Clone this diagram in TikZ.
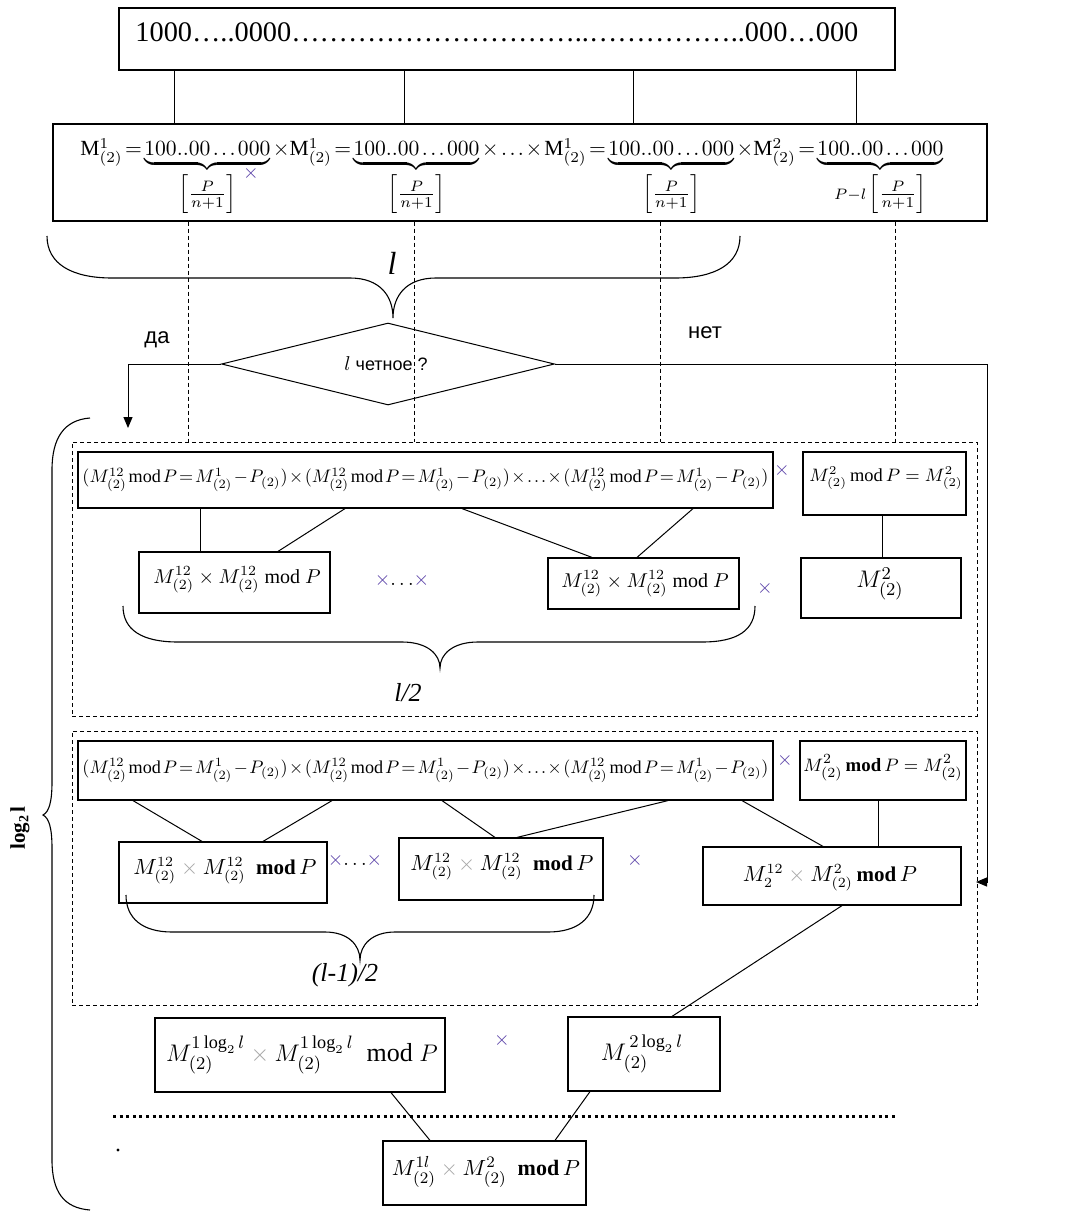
\documentclass[tikz,border=0pt]{standalone}
\usepackage{fontspec}
\setmainfont{Liberation Serif}
\newfontfamily\sansru{Liberation Sans}
\usepackage{graphicx}
\usetikzlibrary{shapes.geometric,fit,arrows.meta}
\definecolor{xviolet}{RGB}{85,60,165}
\definecolor{xgray}{RGB}{165,165,165}
\newcommand{\gx}{\mathbin{\textcolor{xgray}{\times}}}
\newcommand{\grp}{(M^{12}_{(2)}\,\mathrm{mod}\,P=M^{1}_{(2)}-P_{(2)})}
\newcommand{\lbr}{\textstyle\left[\frac{P}{n+1}\right]}
\newcommand{\bnum}{100..00\mathinner{\ldotp\ldotp\ldotp}000}
\newcommand{\tight}{\thickmuskip=2mu plus 1mu\medmuskip=1.5mu plus 1mu\thinmuskip=2mu}
\begin{document}
\begin{tikzpicture}[x=0.5pt,y=-0.5pt,
  box/.style={draw,line width=0.6pt,inner sep=0pt},
  dbox/.style={draw,line width=0.5pt,dash pattern=on 2pt off 1.5pt,inner sep=0pt},
  conn/.style={line width=0.5pt},
  dline/.style={line width=0.5pt,dash pattern=on 2pt off 1.5pt},
  brace/.style={line width=0.55pt},
  xm/.style={inner sep=0pt,text=xviolet},
  lab/.style={inner sep=0pt},
  tipa/.style={-{Triangle[length=5.5pt,width=4.5pt]}}
]
\useasboundingbox (0,0) rectangle (1080,1214);

% ---------- top box ----------
\node[box,fit={(119,8) (895,70)}] (top) {};
\node[lab,anchor=west] (toptext) at (135,32) {\resizebox{361.5pt}{!}{1000…..0000…………………………..……………..000…000}};

% ---------- second box ----------
\node[box,fit={(53,124) (987,221)}] (b2) {};
\node[lab,anchor=north west] (f2) at (80,138) {\resizebox{431.5pt}{!}{$\tight
\mathrm{M}^{1}_{(2)}=\underbrace{\bnum}_{\lbr}\times
\mathrm{M}^{1}_{(2)}=\underbrace{\bnum}_{\lbr}\times\ldots\times
\mathrm{M}^{1}_{(2)}=\underbrace{\bnum}_{\lbr}\times
\mathrm{M}^{2}_{(2)}=\underbrace{\bnum}_{\scriptstyle P-l\lbr}$}};
\node[xm] (xb2) at (251,174) {$\times$};

\foreach \xx in {174,404,633,856}
  \draw[conn] (top.south -| \xx,0) -- (b2.north -| \xx,0);

% ---------- first brace ----------
\draw[brace] (47,236) .. controls (47,264) and (72,278) .. (112,278) -- (350,278)
  .. controls (380,278) and (393,296) .. (393,318)
  .. controls (393,296) and (406,278) .. (436,278) -- (675,278)
  .. controls (715,278) and (740,264) .. (740,236);
\node[lab] (lbl) at (392,263) {\fontsize{16}{16}\selectfont\itshape l};

% ---------- decision ----------
\node[diamond,draw,conn,aspect=4,minimum width=166.5pt,minimum height=41pt,inner sep=0pt] (dia) at (388,364) {};
\node[lab] (diatext) at (386,364) {$l$\ {\sansru\fontsize{9}{10}\selectfont четное ?}};
\node[lab] (da) at (157,340) {\sansru\fontsize{11}{12}\selectfont да};
\node[lab] (net) at (705,333) {\sansru\fontsize{11}{12}\selectfont нет};

\coordinate (daT) at (128,428);
\draw[conn,tipa] (dia.west) -| (daT);
\coordinate (netC) at (987,882);
\coordinate (netT) at (976,882);
\draw[conn] (dia.east) -| (netC);
\draw[conn,tipa] (netC) -- (netT);

% ---------- dashed box 1 ----------
\node[dbox,fit={(72,442) (977,716)}] (d1) {};
\foreach \xx in {188,414,660,895}
  \draw[dline] (b2.south -| \xx,0) -- (d1.north -| \xx,0);

\node[box,fit={(78,452) (773,508)}] (w1) {};
\node[lab] (w1t) at (w1.center) {\resizebox{343pt}{!}{$\tight\grp\times\grp\times\ldots\times\grp$}};
\node[xm] (xw1) at (782,470) {$\times$};
\node[box,fit={(803,452) (966,515)}] (s1) {};
\node[lab] (s1t) at (886,478) {\fontsize{9.2}{11}\selectfont$M^{2}_{(2)}\,\mathrm{mod}\,P=M^{2}_{(2)}$};

\node[box,fit={(139,552) (330,613)}] (a1) {};
\node[lab] (a1t) at (237,580) {$M^{12}_{(2)}\times M^{12}_{(2)}\ \mathrm{mod}\ P$};
\node[lab] (xa1) at (402,580) {\textcolor{xviolet}{$\times$}$\ldots$\textcolor{xviolet}{$\times$}};
\node[box,fit={(548,558) (739,609)}] (a2) {};
\node[lab] (a2t) at (645,584) {$M^{12}_{(2)}\times M^{12}_{(2)}\ \mathrm{mod}\ P$};
\node[xm] (xa2) at (765,588) {$\times$};
\node[box,fit={(801,558) (961,618)}] (a3) {};
\node[lab] (a3t) at (880,584) {\fontsize{12.5}{14}\selectfont$M^{2}_{(2)}$};

\draw[conn] (w1.south -| 200,0) -- (a1.north -| 200,0);
\draw[conn] (w1.south -| 345,0) -- (a1.north -| 278,0);
\draw[conn] (w1.south -| 462,0) -- (a2.north -| 592,0);
\draw[conn] (w1.south -| 693,0) -- (a2.north -| 637,0);
\draw[conn] (s1.south -| 882,0) -- (a3.north -| 882,0);

\draw[brace] (123,606) .. controls (123,630) and (142,642) .. (178,642) -- (402,642)
  .. controls (427,642) and (440,654) .. (440,668)
  .. controls (440,654) and (453,642) .. (478,642) -- (702,642)
  .. controls (738,642) and (755,630) .. (755,606);
\node[lab] (lhalf) at (408,693) {\fontsize{13}{14}\selectfont\itshape l/2};

% ---------- dashed box 2 ----------
\node[dbox,fit={(72,731) (977,1005)}] (d2) {};
\node[box,fit={(78,741) (773,800)}] (w2) {};
\node[lab] (w2t) at (w2.center) {\resizebox{343pt}{!}{$\tight\grp\times\grp\times\ldots\times\grp$}};
\node[xm] (xw2) at (785,760) {$\times$};
\node[box,fit={(800,741) (966,800)}] (s2) {};
\node[lab] (s2t) at (883,768) {\fontsize{9.4}{11}\selectfont$M^{2}_{(2)}\,\mathbf{mod}\,P=M^{2}_{(2)}$};

\node[box,fit={(119,842) (327,903)}] (c1b) {};
\node[lab] (c1bt) at (225,871) {\fontsize{10.5}{12}\selectfont$M^{12}_{(2)}\gx M^{12}_{(2)}\ \ \mathbf{mod}\,P$};
\node[lab] (xb1) at (355,860) {\textcolor{xviolet}{$\times$}$\ldots$\textcolor{xviolet}{$\times$}};
\node[box,fit={(399,838) (603,900)}] (c2b) {};
\node[lab] (c2bt) at (502,867) {\fontsize{10.5}{12}\selectfont$M^{12}_{(2)}\gx M^{12}_{(2)}\ \ \mathbf{mod}\,P$};
\node[xm] (xb2b) at (635,860) {$\times$};
\node[box,fit={(703,847) (961,905)}] (c3b) {};
\node[lab] (c3bt) at (830,878) {\fontsize{10.5}{12}\selectfont$M^{12}_{2}\gx M^{2}_{(2)}\,\mathbf{mod}\,P$};

\draw[conn] (w2.south -| 133,0) -- (c1b.north -| 202,0);
\draw[conn] (w2.south -| 332,0) -- (c1b.north -| 263,0);
\draw[conn] (w2.south -| 442,0) -- (c2b.north -| 495,0);
\draw[conn] (w2.south -| 668,0) -- (c2b.north -| 517,0);
\draw[conn] (w2.south -| 742,0) -- (c3b.north -| 823,0);
\draw[conn] (s2.south -| 878,0) -- (c3b.north -| 878,0);

\draw[brace] (126,895) .. controls (126,918) and (142,932) .. (172,932) -- (325,932)
  .. controls (348,932) and (360,945) .. (360,960)
  .. controls (360,945) and (372,932) .. (395,932) -- (548,932)
  .. controls (578,932) and (594,918) .. (594,895);
\node[lab] (lmin) at (345,975) {\fontsize{13}{14}\selectfont\itshape (l-1)/2};

% ---------- bottom ----------
\node[box,fit={(155,1018) (445,1092)}] (e1) {};
\node[lab] (e1t) at (302,1055) {\fontsize{13}{15}\selectfont$M^{1\log_2 l}_{(2)}\gx M^{1\log_2 l}_{(2)}\ \ \mathrm{mod}\ P$};
\node[xm] (xe) at (502,1040) {$\times$};
\node[box,fit={(568,1017) (720,1091)}] (e2) {};
\node[lab] (e2t) at (642,1054) {\fontsize{13}{15}\selectfont$M^{\,2\log_2 l}_{(2)}$};
\draw[conn] (c3b.south -| 842,0) -- (e2.north -| 672,0);

\draw[line width=1.5pt,dash pattern=on 1.5pt off 1.8pt] (113,1116) -- (897,1116);
\fill (118,1150) circle (0.8pt);

\node[box,fit={(383,1141) (586,1205)}] (f) {};
\node[lab] (ft) at (486,1172) {\fontsize{11}{13}\selectfont$M^{1l}_{(2)}\gx M^{2}_{(2)}\ \ \mathbf{mod}\,P$};
\draw[conn] (e1.south -| 391,0) -- (f.north -| 430,0);
\draw[conn] (e2.south -| 590,0) -- (f.north -| 555,0);

% ---------- left brace ----------
\draw[brace] (90,418) .. controls (64,420) and (52,438) .. (52,470) -- (52,782)
  .. controls (52,802) and (49,812) .. (43,815)
  .. controls (49,818) and (52,828) .. (52,848) -- (52,1160)
  .. controls (52,1192) and (64,1208) .. (90,1210);
\node[lab,rotate=90] (logl) at (20,828) {\fontsize{10.5}{12}\selectfont\bfseries log\raisebox{-0.35ex}{\fontsize{7}{8}\selectfont 2}\,l};
\end{tikzpicture}
\end{document}
